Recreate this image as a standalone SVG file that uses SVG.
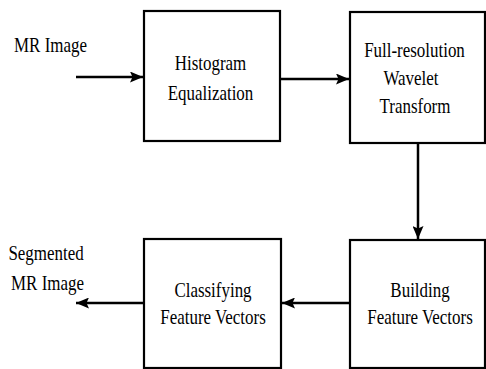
<svg xmlns="http://www.w3.org/2000/svg" width="486" height="369" viewBox="0 0 486 369">
<style>
.box{fill:#fff;stroke:#000;stroke-width:2.2}
.t{font-family:"Liberation Serif","Times New Roman",serif;font-size:22px;fill:#000;text-anchor:middle}
.c{stroke:#000;stroke-width:2.5;fill:none}
</style>
<defs>
<marker id="ah" viewBox="0 0 13 11" refX="13" refY="5.5" markerWidth="13" markerHeight="11" markerUnits="userSpaceOnUse" orient="auto">
<path d="M0,0 L13,5.5 L0,11 L2.5,5.5 Z" fill="#000"/>
</marker>
</defs>
<rect width="486" height="369" fill="#fff"/>
<g id="connectors">
<line class="c" x1="76" y1="77" x2="143" y2="77" marker-end="url(#ah)"/>
<line class="c" x1="281" y1="79" x2="349" y2="79" marker-end="url(#ah)"/>
<line class="c" x1="418" y1="143" x2="418" y2="239" marker-end="url(#ah)"/>
<line class="c" x1="350" y1="303" x2="282" y2="303" marker-end="url(#ah)"/>
<line class="c" x1="144" y1="303" x2="76" y2="303" marker-end="url(#ah)"/>
</g>
<g id="input">
<text class="t" transform="translate(50.5,52) scale(0.77,1)">MR Image</text>
</g>
<g id="histogram">
<rect class="box" x="144" y="11" width="136" height="130"/>
<text class="t" transform="translate(210.5,70) scale(0.77,1)">Histogram</text>
<text class="t" transform="translate(210.5,100) scale(0.77,1)">Equalization</text>
</g>
<g id="wavelet">
<rect class="box" x="350" y="12" width="135" height="131"/>
<text class="t" transform="translate(414.5,57) scale(0.77,1)">Full-resolution</text>
<text class="t" transform="translate(411,85) scale(0.77,1)">Wavelet</text>
<text class="t" transform="translate(415,113) scale(0.77,1)">Transform</text>
</g>
<g id="building">
<rect class="box" x="350" y="240" width="135" height="128"/>
<text class="t" transform="translate(420,297) scale(0.77,1)">Building</text>
<text class="t" transform="translate(420,324) scale(0.77,1)">Feature Vectors</text>
</g>
<g id="classifying">
<rect class="box" x="144" y="239" width="137" height="129"/>
<text class="t" transform="translate(213,297) scale(0.77,1)">Classifying</text>
<text class="t" transform="translate(213,324) scale(0.77,1)">Feature Vectors</text>
</g>
<g id="output">
<text class="t" transform="translate(46,260) scale(0.77,1)">Segmented</text>
<text class="t" transform="translate(47.5,290) scale(0.77,1)">MR Image</text>
</g>
</svg>
